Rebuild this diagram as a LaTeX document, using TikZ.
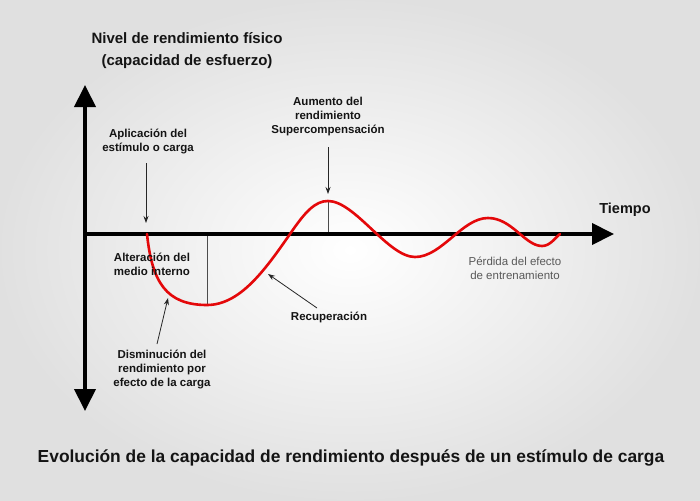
\documentclass[tikz,border=0pt]{standalone}
\usepackage{fontspec}
\setmainfont{Liberation Sans}
\usetikzlibrary{arrows.meta}
\definecolor{curvered}{RGB}{228,8,10}
\definecolor{txt}{RGB}{20,20,20}
\tikzset{bigtip/.tip={Triangle[length=22pt,width=21pt]}}
\begin{document}
\begin{tikzpicture}[x=1pt,y=-1pt,
  lbl/.style={font=\fontsize{11.5}{14}\selectfont\bfseries, align=center, text=txt, inner sep=0pt},
  ttl/.style={font=\fontsize{15}{18}\selectfont\bfseries, align=center, text=txt, inner sep=0pt},
  axisline/.style={line width=4pt, black},
  ptr/.style={line width=0.8pt, black!85, -{Stealth[length=7pt,width=5pt]}},
  guide/.style={line width=0.9pt, black!70},
  curvestyle/.style={line width=2.6pt, curvered, line cap=round}]
\shade[inner color=white, outer color=black!12] (0,0) rectangle (700,500);
\useasboundingbox (0,0) rectangle (700,500);

% titles
\node[ttl] (t1) at (187,38) {Nivel de rendimiento físico};
\node[ttl] (t2) at (187,62) {(capacidad de esfuerzo)};
\node[font=\fontsize{17.4}{20}\selectfont\bfseries, text=txt, inner sep=0pt] (bottom) at (351,458)
  {Evolución de la capacidad de rendimiento después de un estímulo de carga};
\node[font=\fontsize{14.5}{17}\selectfont\bfseries, text=txt, inner sep=0pt] (tiempo) at (625,210) {Tiempo};

% curve key points
\coordinate (c0) at (147,234);
\coordinate (m1) at (207,305);
\coordinate (x1) at (290,234);
\coordinate (p1) at (328,201);
\coordinate (m2) at (415,257);
\coordinate (p2) at (488,218);
\coordinate (m3) at (542,246);
\coordinate (c9) at (560,234);
\coordinate (a1) at (207,234);
\coordinate (a2) at (328,234);

% guide lines
\draw[guide] (a1) -- (m1);
\draw[guide] (a2) -- (p1);

% axes
\coordinate (ytop) at (85,85);
\coordinate (ybot) at (85,411);
\coordinate (xorig) at (83,234);
\coordinate (xend) at (614,234);
\draw[axisline, {bigtip}-{bigtip}] (ybot) -- (ytop);
\draw[axisline, -{bigtip}] (xorig) -- (xend);

% curve
\draw[curvestyle] (c0) .. controls (152,282) and (166,305) .. (m1)
  .. controls (240,305) and (265,270) .. (x1)
  .. controls (305,212) and (315,201) .. (p1)
  .. controls (355,201) and (388,257) .. (m2)
  .. controls (442,257) and (462,218) .. (p2)
  .. controls (512,218) and (525,246) .. (m3)
  .. controls (550,246) and (555,238) .. (c9);

% labels
\node[lbl] (aplic) at (148,142) {Aplicación del\\estímulo o carga};
\node[lbl] (alter) at (152,264) {Alteración del\\medio interno};
\node[lbl] (aumento) at (328,117) {Aumento del\\rendimiento\\Supercompensación};
\node[lbl] (recup) at (329,317) {Recuperación};
\node[lbl] (dismin) at (162,369) {Disminución del\\rendimiento por\\efecto de la carga};
\node[font=\fontsize{11.5}{14}\selectfont, align=center, text=black!65, inner sep=0pt] (perdida) at (515,268)
  {Pérdida del efecto\\de entrenamiento};

% pointer arrows
\coordinate (apT) at (146,163);
\coordinate (apH) at (146,223);
\coordinate (auT) at (328,147);
\coordinate (auH) at (328,194);
\coordinate (reT) at (317,308);
\coordinate (reH) at (268,274);
\coordinate (diT) at (157,344);
\coordinate (diH) at (168,298);
\draw[ptr] (apT) -- (apH);
\draw[ptr] (auT) -- (auH);
\draw[ptr] (reT) -- (reH);
\draw[ptr] (diT) -- (diH);
\end{tikzpicture}
\end{document}
